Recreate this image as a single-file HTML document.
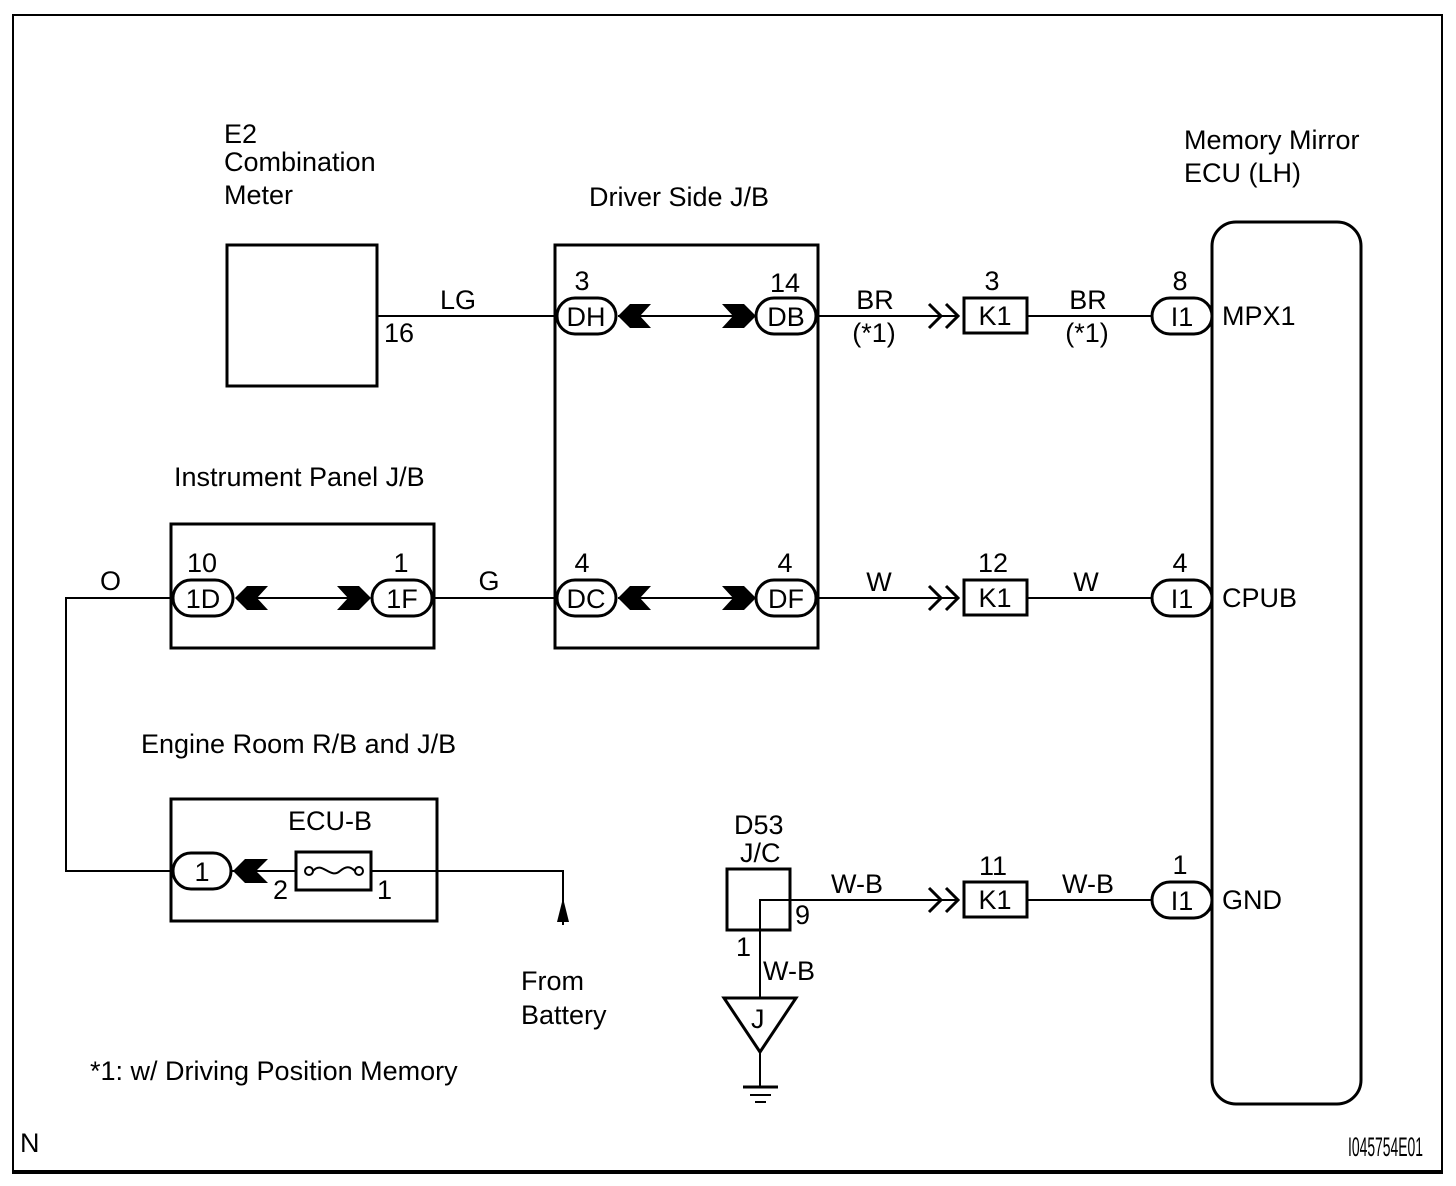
<!DOCTYPE html>
<html><head><meta charset="utf-8"><style>
html,body{margin:0;padding:0;background:#fff}
svg{display:block}
text{font-family:"Liberation Sans",Arial,sans-serif;font-size:27px;fill:#000}
.c{text-anchor:middle}
</style></head><body>
<svg width="1456" height="1186" viewBox="0 0 1456 1186" xmlns="http://www.w3.org/2000/svg">
<g fill="none" stroke="#000">
<path d="M13 1172 V15 H1442 V1172" stroke-width="2"/>
<line x1="12" y1="1172" x2="1443" y2="1172" stroke-width="4"/>

<rect x="227" y="245" width="150" height="141" stroke-width="3"/>
<rect x="555" y="245" width="263" height="403" stroke-width="3"/>
<rect x="171" y="524" width="263" height="124" stroke-width="3"/>
<rect x="171" y="799" width="266" height="122" stroke-width="3"/>
<rect x="1212" y="222" width="149" height="882" rx="24" stroke-width="3"/>
<rect x="727" y="869" width="63" height="61" stroke-width="3"/>
<rect x="296" y="852" width="75" height="38" stroke-width="3"/>

<g stroke-width="2">
<line x1="377" y1="316" x2="557" y2="316"/>
<line x1="618" y1="316" x2="756" y2="316"/>
<line x1="818" y1="316" x2="958" y2="316"/>
<line x1="1027" y1="316" x2="1152" y2="316"/>
<polyline points="173,598 66,598 66,871 173,871"/>
<line x1="236" y1="598" x2="370" y2="598"/>
<line x1="434" y1="598" x2="557" y2="598"/>
<line x1="618" y1="598" x2="756" y2="598"/>
<line x1="818" y1="598" x2="958" y2="598"/>
<line x1="1027" y1="598" x2="1152" y2="598"/>
<line x1="231" y1="871" x2="296" y2="871"/>
<polyline points="371,871 563,871 563,925"/>
<polyline points="958,900 760,900 760,998"/>
<line x1="1027" y1="900" x2="1152" y2="900"/>
<line x1="760" y1="1052" x2="760" y2="1086"/>
<line x1="743" y1="1087" x2="778" y2="1087" stroke-width="3"/>
<line x1="750" y1="1095" x2="771" y2="1095"/>
<line x1="755" y1="1102" x2="766" y2="1102"/>
</g>

<polygon points="724,998 796,998 760,1052" stroke-width="3"/>

<circle cx="309" cy="871" r="4" stroke-width="2"/>
<circle cx="359" cy="871" r="4" stroke-width="2"/>
<path d="M313 871 C322 860 330 880 340 871 C346 866 350 866 355 871" stroke-width="2"/>

<g stroke-width="3">
<rect x="557" y="298" width="59" height="36" rx="18"/>
<rect x="756" y="298" width="60" height="36" rx="18"/>
<rect x="557" y="580" width="59" height="36" rx="18"/>
<rect x="756" y="580" width="60" height="36" rx="18"/>
<rect x="173" y="580" width="60" height="36" rx="18"/>
<rect x="372" y="580" width="60" height="36" rx="18"/>
<rect x="173" y="853" width="58" height="36" rx="18"/>
<rect x="1152" y="298" width="60" height="36" rx="18"/>
<rect x="1152" y="580" width="60" height="36" rx="18"/>
<rect x="1152" y="882" width="60" height="36" rx="18"/>
<rect x="964" y="298" width="63" height="35"/>
<rect x="964" y="580" width="63" height="35"/>
<rect x="964" y="882" width="63" height="35"/>
</g>

<g stroke-width="3">
<polyline points="929,304 941,316 929,328"/>
<polyline points="946,304 958,316 946,328"/>
<polyline points="929,586 941,598 929,610"/>
<polyline points="946,586 958,598 946,610"/>
<polyline points="929,888 941,900 929,912"/>
<polyline points="946,888 958,900 946,912"/>
</g>
</g>

<g fill="#000">
<polygon points="618,316 630,304 651,304 640,316 651,328 630,328"/>
<polygon points="756,316 744,304 722,304 733,316 722,328 744,328"/>
<polygon points="618,598 630,586 651,586 640,598 651,610 630,610"/>
<polygon points="756,598 744,586 722,586 733,598 722,610 744,610"/>
<polygon points="235,598 247,586 268,586 257,598 268,610 247,610"/>
<polygon points="371,598 359,586 337,586 348,598 337,610 359,610"/>
<polygon points="233,871 245,859 268,859 256,871 268,883 245,883"/>
<polygon points="563,898 557,922 569,922"/>
</g>

<text x="224" y="143">E2</text>
<text x="224" y="171">Combination</text>
<text x="224" y="204">Meter</text>
<text x="589" y="206">Driver Side J/B</text>
<text x="1184" y="149">Memory Mirror</text>
<text x="1184" y="182">ECU (LH)</text>
<text x="174" y="486">Instrument Panel J/B</text>
<text x="141" y="753">Engine Room R/B and J/B</text>
<text x="288" y="830">ECU-B</text>
<text x="90" y="1080">*1: w/ Driving Position Memory</text>
<text x="521" y="990">From</text>
<text x="521" y="1024">Battery</text>
<text x="734" y="834">D53</text>
<text x="740" y="862">J/C</text>
<text x="20" y="1152" font-size="20">N</text>
<text x="1348" y="1156" font-size="13" textLength="75" lengthAdjust="spacingAndGlyphs">I045754E01</text>

<text x="440" y="309">LG</text>
<text x="384" y="342">16</text>
<text class="c" x="582" y="290">3</text>
<text class="c" x="785" y="292">14</text>
<text class="c" x="875" y="309">BR</text>
<text class="c" x="874" y="342">(*1)</text>
<text class="c" x="992" y="290">3</text>
<text class="c" x="1088" y="309">BR</text>
<text class="c" x="1087" y="342">(*1)</text>
<text class="c" x="1180" y="290">8</text>
<text x="1222" y="325">MPX1</text>

<text x="100" y="590">O</text>
<text class="c" x="202" y="572">10</text>
<text class="c" x="401" y="572">1</text>
<text class="c" x="489" y="590">G</text>
<text class="c" x="582" y="572">4</text>
<text class="c" x="785" y="572">4</text>
<text class="c" x="879" y="591">W</text>
<text class="c" x="993" y="572">12</text>
<text class="c" x="1086" y="591">W</text>
<text class="c" x="1180" y="572">4</text>
<text x="1222" y="607">CPUB</text>

<text x="273" y="899">2</text>
<text x="377" y="899">1</text>
<text class="c" x="857" y="893">W-B</text>
<text class="c" x="1088" y="893">W-B</text>
<text class="c" x="993" y="875">11</text>
<text class="c" x="1180" y="874">1</text>
<text x="1222" y="909">GND</text>
<text x="795" y="924">9</text>
<text x="736" y="956">1</text>
<text x="763" y="980">W-B</text>
<text x="751" y="1028">J</text>

<text class="c" x="586" y="326">DH</text>
<text class="c" x="786" y="326">DB</text>
<text class="c" x="586" y="608">DC</text>
<text class="c" x="786" y="608">DF</text>
<text class="c" x="203" y="608">1D</text>
<text class="c" x="402" y="608">1F</text>
<text class="c" x="202" y="881">1</text>
<text class="c" x="995" y="325">K1</text>
<text class="c" x="995" y="607">K1</text>
<text class="c" x="995" y="909">K1</text>
<text class="c" x="1182" y="326">I1</text>
<text class="c" x="1182" y="608">I1</text>
<text class="c" x="1182" y="910">I1</text>
</svg>
</body></html>
